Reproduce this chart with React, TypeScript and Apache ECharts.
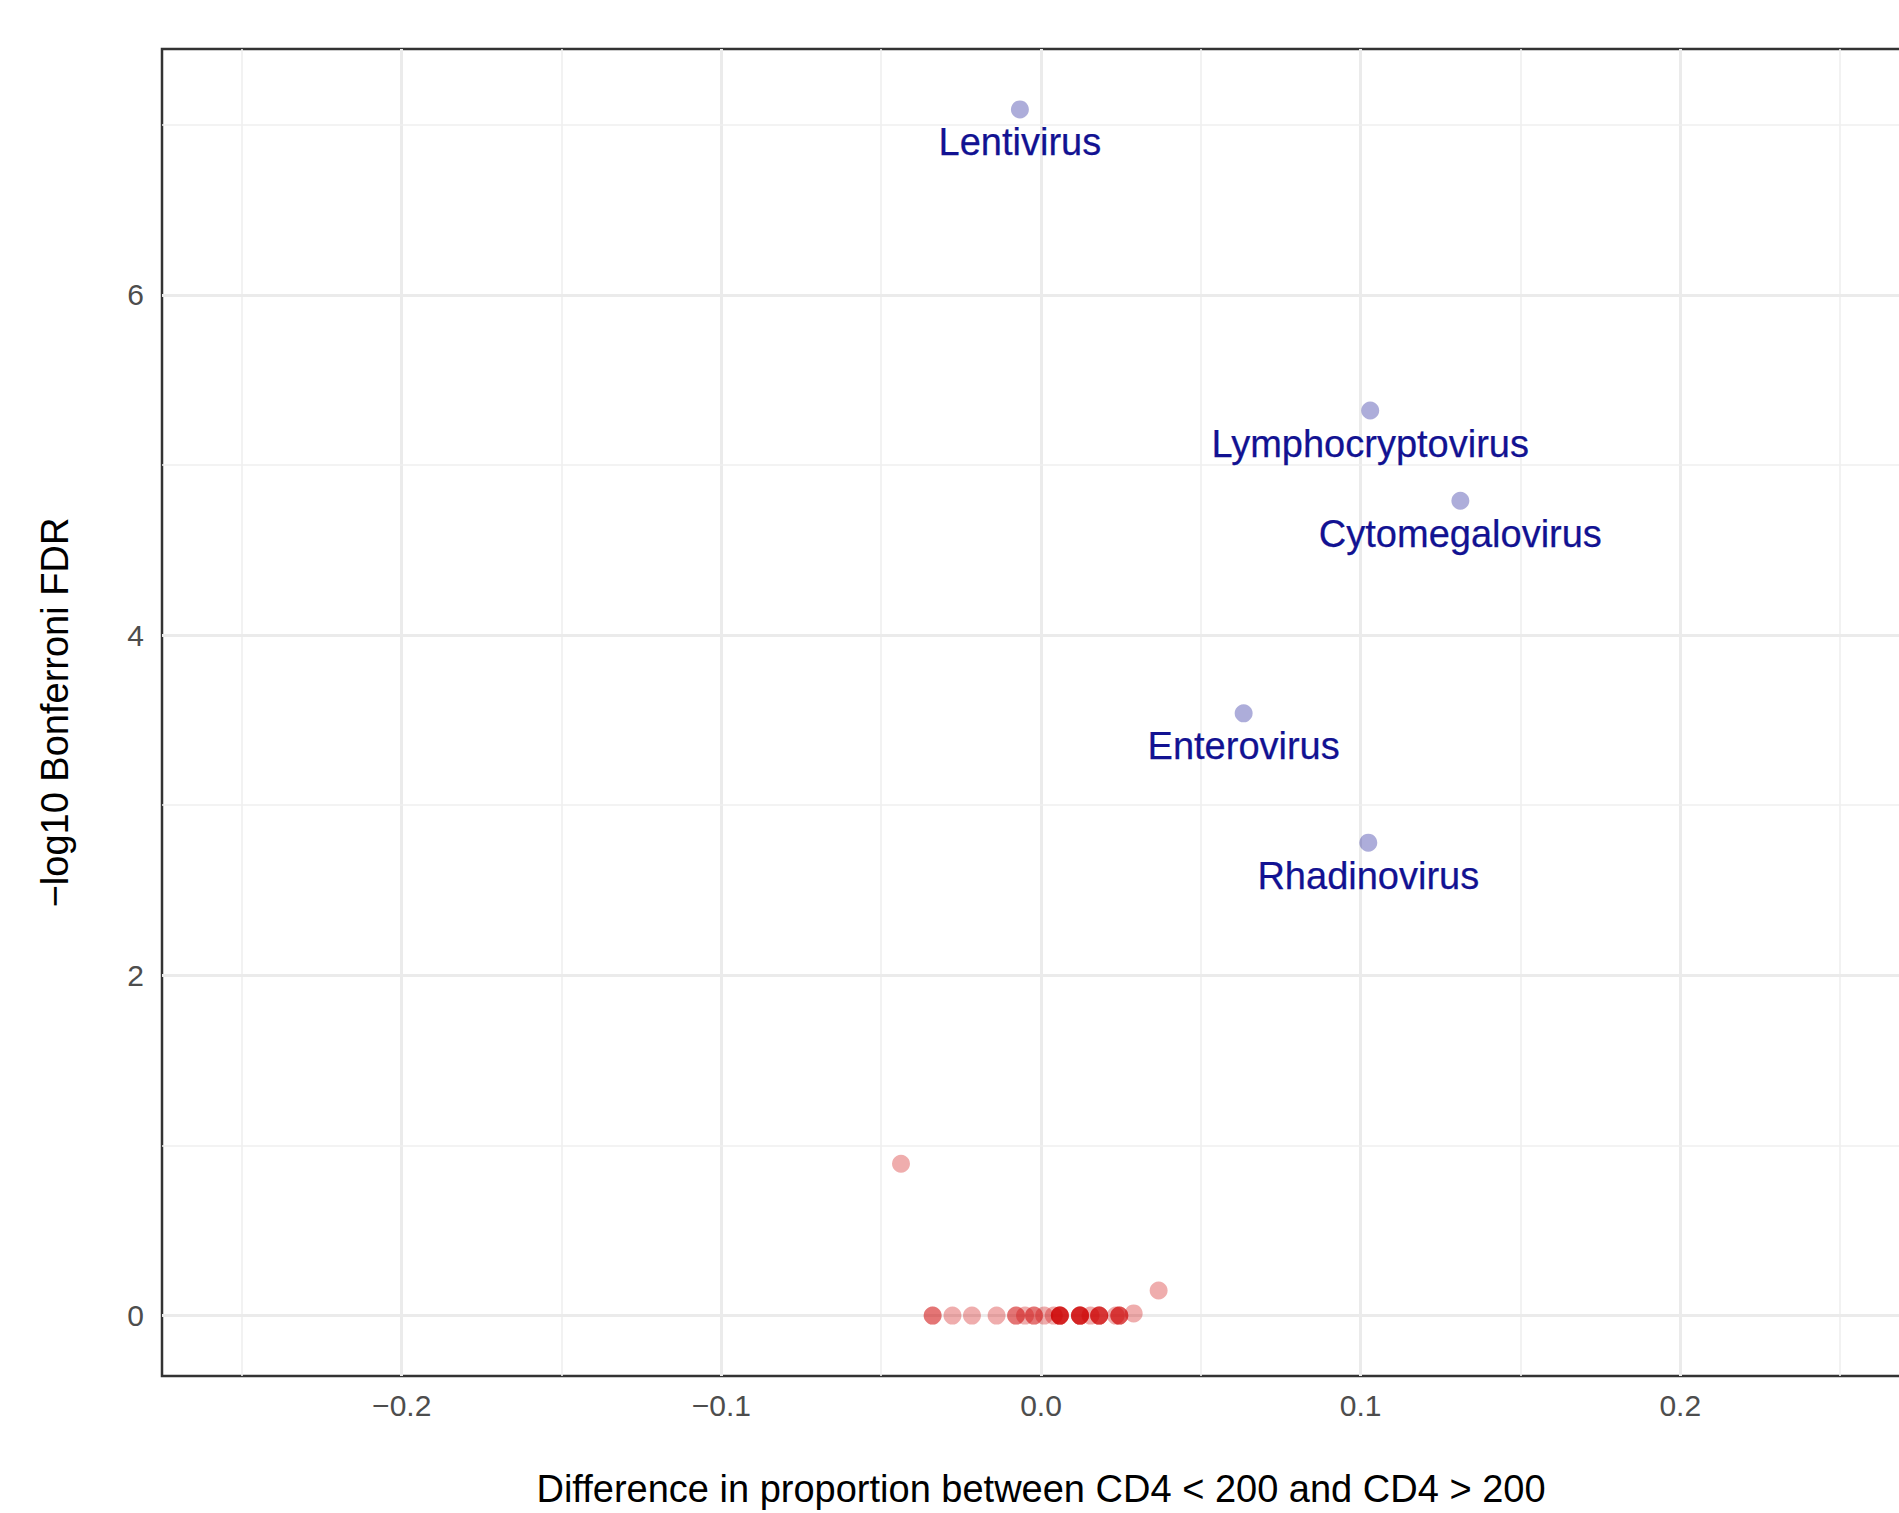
import React, { useEffect, useRef } from 'react';
import * as echarts from 'echarts';

// Significant (labelled) genera
const sigNames = ['Lentivirus', 'Lymphocryptovirus', 'Cytomegalovirus', 'Enterovirus', 'Rhadinovirus'];
const sigX = [-0.0066, 0.103, 0.1312, 0.0634, 0.1024];
const sigY = [7.09, 5.32, 4.79, 3.54, 2.78];

// Non-significant genera (overlapping points repeated)
const otherX = [
  -0.0438, 0.0368, 0.029,
  -0.0339, -0.0339,
  -0.0277, -0.0216, -0.0139,
  -0.0078, -0.0078, -0.005,
  -0.0022, -0.0022, 0.001, 0.004,
  0.0059, 0.0059, 0.0059, 0.0059, 0.0059,
  0.0122, 0.0122, 0.0122, 0.0122, 0.0122,
  0.0155,
  0.0182, 0.0182, 0.0182, 0.0182,
  0.0234,
  0.0245, 0.0245, 0.0245,
];
const otherY = [
  0.893, 0.148, 0.013,
  0, 0,
  0, 0, 0,
  0, 0, 0,
  0, 0, 0, 0,
  0, 0, 0, 0, 0,
  0, 0, 0, 0, 0,
  0,
  0, 0, 0, 0,
  0,
  0, 0, 0,
];

const xMajor = [-0.2, -0.1, 0, 0.1, 0.2];
const xMinor = [-0.25, -0.15, -0.05, 0.05, 0.15, 0.25];
const yMajor = [0, 2, 4, 6];
const yMinor = [1, 3, 5, 7];

const xTitle = 'Difference in proportion between CD4 < 200 and CD4 > 200';
const yTitle = '\u2212log10 Bonferroni FDR';

const FONT = '"Liberation Sans", Arial, Helvetica, sans-serif';

export default function App() {
  const ref = useRef<HTMLDivElement>(null);
  useEffect(() => {
    const chart = echarts.init(ref.current!, null, { renderer: 'svg' });
    const gridLines = [
      ...xMajor.map((v) => ({ xAxis: v, lineStyle: { color: '#EBEBEB', width: 3, type: 'solid' } })),
      ...xMinor.map((v) => ({ xAxis: v, lineStyle: { color: '#EFEFEF', width: 1.6, type: 'solid' } })),
      ...yMajor.map((v) => ({ yAxis: v, lineStyle: { color: '#EBEBEB', width: 3, type: 'solid' } })),
      ...yMinor.map((v) => ({ yAxis: v, lineStyle: { color: '#EFEFEF', width: 1.6, type: 'solid' } })),
    ];
    chart.setOption({
      animation: false,
      backgroundColor: '#fff',
      grid: {
        left: 162,
        top: 49,
        right: 10,
        bottom: 136,
        show: true,
        borderColor: '#333333',
        borderWidth: 2.5,
        backgroundColor: 'transparent',
      },
      xAxis: {
        type: 'value',
        min: -0.275,
        max: 0.275,
        axisLine: { show: false },
        splitLine: { show: false },
        axisTick: {
          show: true,
          customValues: xMajor,
          length: 10,
          lineStyle: { color: '#333333', width: 2.5 },
        },
        axisLabel: {
          customValues: xMajor,
          margin: 14,
          fontSize: 30,
          fontFamily: FONT,
          color: '#4D4D4D',
          formatter: (v: number) => v.toFixed(1).replace('-', '\u2212'),
        },
        name: xTitle,
        nameLocation: 'middle',
        nameGap: 94,
        nameTextStyle: { fontSize: 38, fontFamily: FONT, color: '#000' },
      },
      yAxis: {
        type: 'value',
        min: -0.355,
        max: 7.445,
        axisLine: { show: false },
        splitLine: { show: false },
        axisTick: {
          show: true,
          customValues: yMajor,
          length: 10,
          lineStyle: { color: '#333333', width: 2.5 },
        },
        axisLabel: {
          customValues: yMajor,
          margin: 18,
          fontSize: 30,
          fontFamily: FONT,
          color: '#4D4D4D',
          formatter: (v: number) => String(Math.round(v)),
        },
        name: yTitle,
        nameLocation: 'middle',
        nameGap: 88,
        nameTextStyle: { fontSize: 38, fontFamily: FONT, color: '#000' },
      },
      series: [
        {
          type: 'scatter',
          data: [],
          z: 1,
          silent: true,
          markLine: {
            silent: true,
            symbol: ['none', 'none'],
            label: { show: false },
            animation: false,
            z: 1,
            data: gridLines,
          },
        },
        {
          type: 'scatter',
          z: 3,
          symbolSize: 18,
          itemStyle: { color: 'rgba(0,0,139,0.4)' },
          data: sigX.map((x, i) => ({ name: sigNames[i], value: [x, sigY[i]] })),
          label: {
            show: true,
            position: 'bottom',
            distance: 5,
            formatter: '{b}',
            fontSize: 38,
            fontFamily: FONT,
            color: '#121292',
            opacity: 1,
            textBorderColor: '#121292',
            textBorderWidth: 0.25,
          },
        },
        {
          type: 'scatter',
          z: 3,
          symbolSize: 18,
          itemStyle: { color: 'rgba(204,0,0,0.4)' },
          data: otherX.map((x, i) => [x, otherY[i]]),
        },
      ],
    });
    return () => chart.dispose();
  }, []);
  return (
    <div style={{ position: 'absolute', left: 0, top: 0, width: 1899, height: 1513, overflow: 'hidden', background: '#fff' }}>
      <div ref={ref} style={{ width: 1930, height: 1513 }} />
    </div>
  );
}
